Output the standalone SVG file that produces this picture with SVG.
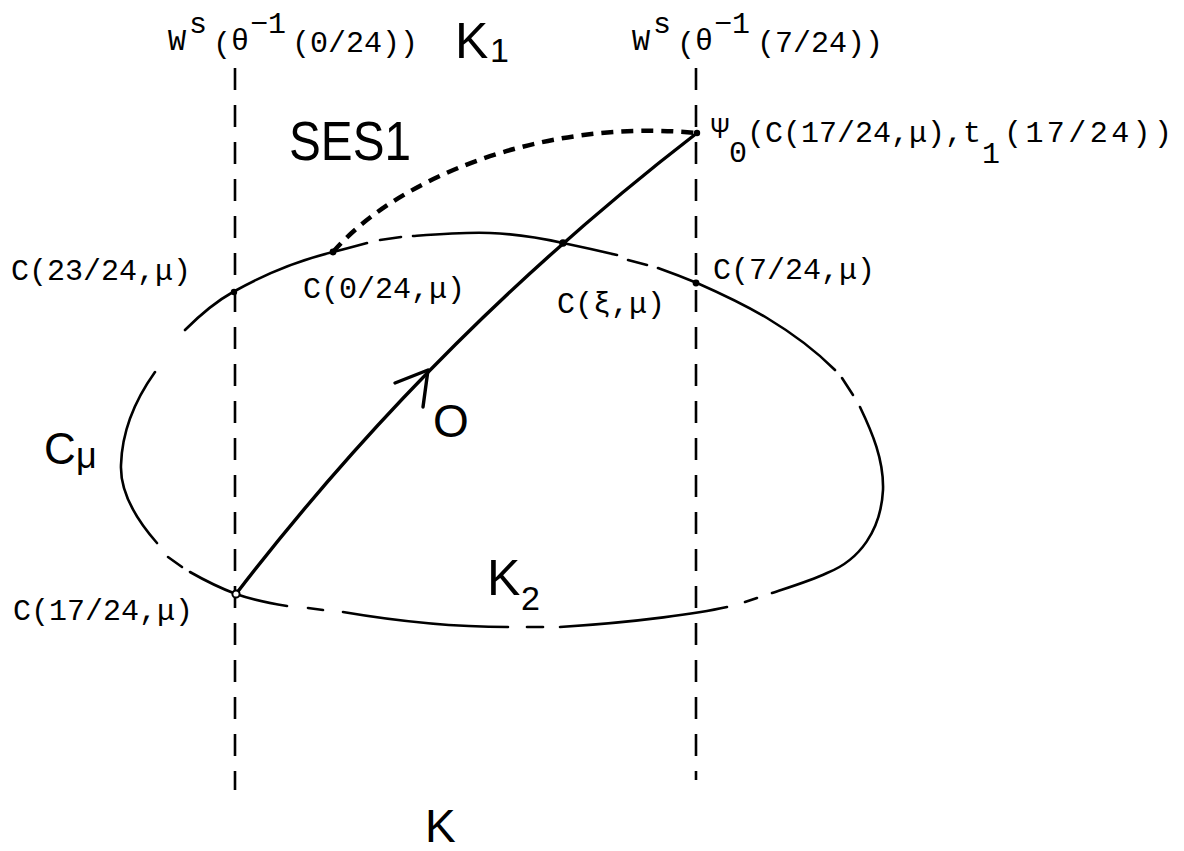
<svg xmlns="http://www.w3.org/2000/svg" width="1184" height="851" viewBox="0 0 1184 851">
<style>
.bg{fill:#ffffff}
.thin{fill:none;stroke:#000;stroke-width:2.6;stroke-linecap:round;stroke-linejoin:round}
.vdash{fill:none;stroke:#000;stroke-width:2.6;stroke-dasharray:22 15}
.ses{fill:none;stroke:#000;stroke-width:4.5;stroke-dasharray:12 8}
.traj{fill:none;stroke:#000;stroke-width:3.4;stroke-linecap:round}
.mono{font-family:"Liberation Mono","DejaVu Sans Mono",monospace;font-size:30px;fill:#000}
.hand{font-family:"Liberation Sans","DejaVu Sans",sans-serif;fill:#000}
.dot{fill:#000}
</style>
<rect class="bg" x="0" y="0" width="1184" height="851"/>

<g id="stable-manifolds">
  <line class="vdash" x1="235" y1="68" x2="235" y2="790"/>
  <line class="vdash" x1="696" y1="68" x2="696" y2="780"/>
</g>

<g id="curve-C-mu">
  <path class="thin" d="M157,543 C135,518 120,492 121,465 C122,430 135,400 155,372"/>
  <path class="thin" d="M185,330 C200,315 215,302 233,292 C265,274 300,260 333,252 C345,249 356,246 367,243"/>
  <path class="thin" d="M380,240 L401,237"/>
  <path class="thin" d="M413,236 C440,234 465,232 490,233 C520,234 545,239 563,243 C582,247 600,251 617,255"/>
  <path class="thin" d="M628,260 L647,265"/>
  <path class="thin" d="M658,268 C672,273 685,278 697,283 C722,294 745,305 767,318 C792,333 815,350 835,370"/>
  <path class="thin" d="M842,378 L853,395"/>
  <path class="thin" d="M860,407 C872,432 884,460 883,490 C881,530 860,560 827,573 C810,581 790,587 772,593"/>
  <path class="thin" d="M745,602 L757,598"/>
  <path class="thin" d="M727,607 C700,613 640,622 560,627"/>
  <path class="thin" d="M527,627 L543,627"/>
  <path class="thin" d="M508,627 C450,627 390,620 343,612"/>
  <path class="thin" d="M308,608 L323,610"/>
  <path class="thin" d="M287,606 C268,603 250,599 236,594 C220,588 204,580 190,572"/>
  <path class="thin" d="M168,557 L182,567"/>
</g>

<g id="connectors">
  <path class="ses" d="M333,252 C395,180 540,118 697,133"/>
  <path class="traj" d="M236,594 Q435,335 697,133"/>
  <path class="traj" d="M395,383 L428,370 L423,407" stroke-linejoin="round"/>
</g>

<g id="node-c23">
  <circle class="dot" cx="234" cy="292" r="3.2"/>
  <text class="mono" x="11" y="280">C(23/24,μ)</text>
</g>
<g id="node-c0">
  <circle class="dot" cx="333" cy="252" r="3.4"/>
  <text class="mono" x="303" y="298">C(0/24,μ)</text>
</g>
<g id="node-cxi">
  <circle class="dot" cx="563" cy="243" r="3.8"/>
  <text class="mono" x="557" y="313">C(ξ,μ)</text>
</g>
<g id="node-c7">
  <circle class="dot" cx="696" cy="283" r="3.4"/>
  <text class="mono" x="713" y="279">C(7/24,μ)</text>
</g>
<g id="node-c17">
  <circle cx="236" cy="594" r="3.6" fill="#fff" stroke="#000" stroke-width="2"/>
  <text class="mono" x="13" y="620">C(17/24,μ)</text>
</g>
<g id="node-psi">
  <circle class="dot" cx="697" cy="133" r="3.2"/>
  <text class="mono"><tspan x="711" y="138">Ψ</tspan><tspan x="729" y="162">0</tspan><tspan x="747" y="142">(C(17/24,μ),t</tspan><tspan x="982" y="163">1</tspan><tspan x="1004" y="142" textLength="168" lengthAdjust="spacing">(17/24))</tspan></text>
</g>

<g id="label-ws-left">
  <text class="mono"><tspan x="168" y="50">W</tspan><tspan x="189" y="33">s</tspan><tspan x="213" y="53">(</tspan><tspan x="231" y="50">θ</tspan><tspan x="250" y="33">−1</tspan><tspan x="292" y="52">(0/24))</tspan></text>
</g>
<g id="label-ws-right">
  <text class="mono"><tspan x="632" y="50">W</tspan><tspan x="653" y="33">s</tspan><tspan x="677" y="53">(</tspan><tspan x="695" y="50">θ</tspan><tspan x="714" y="33">−1</tspan><tspan x="757" y="52">(7/24))</tspan></text>
</g>

<g id="label-K1">
  <text class="hand" x="455" y="58" font-size="50">K</text>
  <text class="hand" x="490" y="62" font-size="34">1</text>
</g>
<g id="label-SES1">
  <text class="hand" x="289" y="160" font-size="56" textLength="122" lengthAdjust="spacingAndGlyphs">SES1</text>
</g>
<g id="label-Cmu">
  <text class="hand" x="44" y="464" font-size="44">C</text>
  <text class="hand" x="76" y="468" font-size="36">μ</text>
</g>
<g id="label-O">
  <text class="hand" x="433" y="437" font-size="46">O</text>
</g>
<g id="label-K2">
  <text class="hand" x="487" y="595" font-size="50">K</text>
  <text class="hand" x="521" y="610" font-size="34">2</text>
</g>
<g id="label-K">
  <text class="hand" x="425" y="842" font-size="46">K</text>
</g>
</svg>
